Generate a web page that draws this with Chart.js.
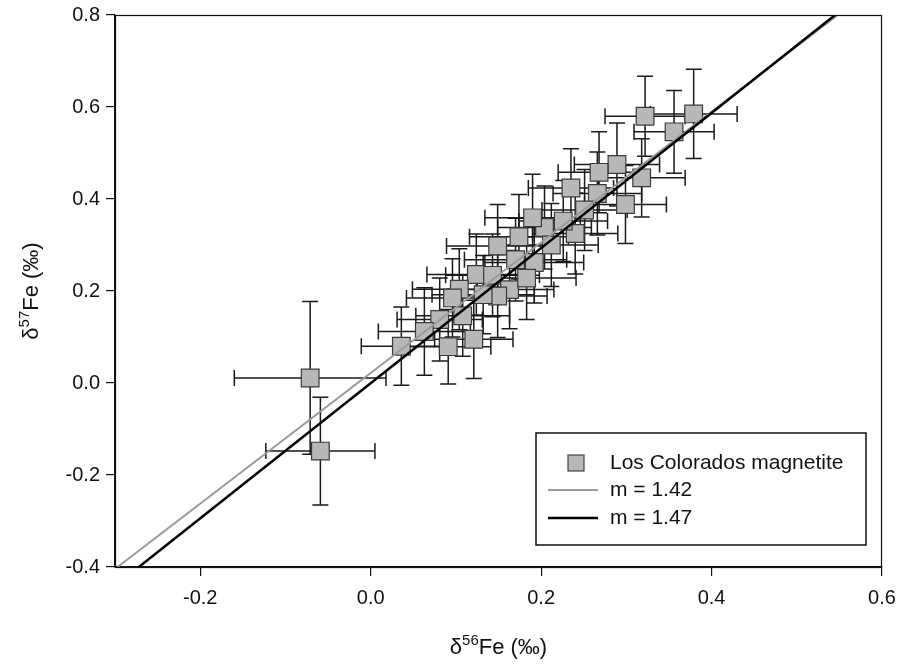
<!DOCTYPE html>
<html>
<head>
<meta charset="utf-8">
<script src="https://cdn.jsdelivr.net/npm/chart.js@4/dist/chart.umd.min.js"></script>
<style>
  html, body { margin: 0; padding: 0; background: #fff; }
  #wrap { width: 901px; height: 666px; }
</style>
</head>
<body>
<div id="wrap"><canvas id="fechart" width="901" height="666"></canvas></div>
<script>
// Los Colorados magnetite, d56Fe vs d57Fe (permil)
const d56 = [0.322, 0.379, 0.356, 0.289, 0.268, 0.318, 0.235, 0.266, 0.251, 0.299,
             0.204, 0.240, 0.190, 0.174, 0.149, 0.124, 0.143, 0.163, 0.104, 0.096,
             0.081, 0.063, 0.036, 0.091, 0.121, 0.108, 0.149, -0.071, -0.059,
             0.170, 0.192, 0.212, 0.132, 0.226, 0.183];
const d57 = [0.580, 0.585, 0.546, 0.475, 0.458, 0.446, 0.424, 0.412, 0.376, 0.388,
             0.338, 0.325, 0.359, 0.318, 0.298, 0.236, 0.234, 0.203, 0.204, 0.185,
             0.138, 0.112, 0.080, 0.079, 0.095, 0.146, 0.189, 0.011, -0.148,
             0.268, 0.262, 0.300, 0.192, 0.352, 0.228];
const err56 = [0.047, 0.051, 0.047, 0.050, 0.048, 0.051, 0.050, 0.052, 0.050, 0.048,
               0.055, 0.050, 0.056, 0.058, 0.060, 0.058, 0.055, 0.052, 0.055, 0.054,
               0.050, 0.054, 0.047, 0.050, 0.046, 0.055, 0.058, 0.089, 0.064,
               0.060, 0.058, 0.055, 0.060, 0.052, 0.058];
const err57 = [0.087, 0.097, 0.090, 0.090, 0.088, 0.085, 0.085, 0.090, 0.088, 0.085,
               0.090, 0.088, 0.095, 0.092, 0.090, 0.088, 0.090, 0.085, 0.088, 0.085,
               0.090, 0.095, 0.085, 0.081, 0.085, 0.088, 0.090, 0.166, 0.117,
               0.090, 0.088, 0.090, 0.085, 0.088, 0.090];

// fit lines, end points
const fit142 = [[-0.297, -0.400], [0.548, 0.800]];
const fit147 = [[-0.272, -0.400], [0.545, 0.800]];

const xTicks = [-0.2, 0.0, 0.2, 0.4, 0.6];
const yTicks = [-0.4, -0.2, 0.0, 0.2, 0.4, 0.6, 0.8];

const FONT = '"Liberation Sans", Arial, sans-serif';
const pts = d56.map((x, i) => ({ x: x, y: d57[i] }));
const toXY = arr => arr.map(p => ({ x: p[0], y: p[1] }));

const errorBars = {
  id: 'errorBars',
  beforeDatasetsDraw(chart) {
    const { ctx, chartArea, scales } = chart;
    const xs = scales.x, ys = scales.y;
    const cap = 8;
    ctx.save();
    ctx.beginPath();
    ctx.rect(chartArea.left, chartArea.top, chartArea.right - chartArea.left, chartArea.bottom - chartArea.top);
    ctx.clip();
    ctx.strokeStyle = '#1a1a1a';
    ctx.lineWidth = 1.5;
    for (let i = 0; i < d56.length; i++) {
      const px = xs.getPixelForValue(d56[i]);
      const py = ys.getPixelForValue(d57[i]);
      const x0 = xs.getPixelForValue(d56[i] - err56[i]);
      const x1 = xs.getPixelForValue(d56[i] + err56[i]);
      const y0 = ys.getPixelForValue(d57[i] - err57[i]);
      const y1 = ys.getPixelForValue(d57[i] + err57[i]);
      ctx.beginPath();
      ctx.moveTo(x0, py); ctx.lineTo(x1, py);
      ctx.moveTo(x0, py - cap); ctx.lineTo(x0, py + cap);
      ctx.moveTo(x1, py - cap); ctx.lineTo(x1, py + cap);
      ctx.moveTo(px, y0); ctx.lineTo(px, y1);
      ctx.moveTo(px - cap, y0); ctx.lineTo(px + cap, y0);
      ctx.moveTo(px - cap, y1); ctx.lineTo(px + cap, y1);
      ctx.stroke();
    }
    ctx.restore();
  }
};

// axis title with a real superscript: delta, mass number, rest
function drawIsoTitle(ctx, mass, cx, cy, rotate) {
  ctx.save();
  ctx.translate(cx, cy);
  if (rotate) ctx.rotate(-Math.PI / 2);
  ctx.fillStyle = '#111';
  ctx.textBaseline = 'alphabetic';
  ctx.textAlign = 'left';
  const big = '22px ' + FONT, small = '15px ' + FONT;
  ctx.font = big;
  const wD = ctx.measureText('δ').width;
  const wR = ctx.measureText('Fe (‰)').width;
  ctx.font = small;
  const wM = ctx.measureText(mass).width;
  let x = -(wD + wM + wR) / 2;
  const base = 8;
  ctx.font = big;
  ctx.fillText('δ', x, base); x += wD;
  ctx.font = small;
  ctx.fillText(mass, x, base - 9); x += wM;
  ctx.font = big;
  ctx.fillText('Fe (‰)', x, base);
  ctx.restore();
}

// box frame, axis titles and legend inside the plot
const frameAndLegend = {
  id: 'frameAndLegend',
  afterDraw(chart) {
    const { ctx, chartArea } = chart;
    ctx.save();
    ctx.strokeStyle = '#111';
    ctx.lineWidth = 1.2;
    ctx.strokeRect(chartArea.left + 0.5, chartArea.top + 0.5,
                   chartArea.right - chartArea.left - 1, chartArea.bottom - chartArea.top);

    drawIsoTitle(ctx, '56', (chartArea.left + chartArea.right) / 2, 646, false);
    drawIsoTitle(ctx, '57', 30, (chartArea.top + chartArea.bottom) / 2, true);

    const ds = chart.data.datasets;
    const bx = chartArea.right - 346, by = chartArea.bottom - 134;
    const bw = 330, bh = 112;
    ctx.fillStyle = '#fff';
    ctx.fillRect(bx, by, bw, bh);
    ctx.lineWidth = 1.5;
    ctx.strokeRect(bx, by, bw, bh);

    ctx.font = '21px ' + FONT;
    ctx.textBaseline = 'middle';
    ctx.textAlign = 'left';
    const tx = bx + 74;
    let ry = by + 30;
    ctx.fillStyle = '#b8b8b8';
    ctx.strokeStyle = '#444';
    ctx.lineWidth = 1.2;
    ctx.fillRect(bx + 32, ry - 8, 16, 16);
    ctx.strokeRect(bx + 32, ry - 8, 16, 16);
    ctx.fillStyle = '#111';
    ctx.fillText(ds[0].label, tx, ry);
    [1, 2].forEach((k, j) => {
      const ly = by + 57 + j * 28;
      ctx.strokeStyle = ds[k].borderColor;
      ctx.lineWidth = ds[k].borderWidth;
      ctx.beginPath();
      ctx.moveTo(bx + 12, ly); ctx.lineTo(bx + 62, ly);
      ctx.stroke();
      ctx.fillStyle = '#111';
      ctx.fillText(ds[k].label, tx, ly);
    });
    ctx.restore();
  }
};

const tickFont = { family: FONT, size: 20 };

new Chart(document.getElementById('fechart').getContext('2d'), {
  type: 'scatter',
  data: {
    datasets: [{
      label: 'Los Colorados magnetite',
      data: pts,
      pointStyle: 'rect',
      pointRadius: 12.5,
      pointHoverRadius: 12.5,
      backgroundColor: '#b8b8b8',
      borderColor: '#3a3a3a',
      borderWidth: 1.2,
      order: 2
    }, {
      type: 'line',
      label: 'm = 1.42',
      data: toXY(fit142),
      borderColor: '#9a9a9a',
      borderWidth: 2,
      pointRadius: 0,
      fill: false,
      order: 1
    }, {
      type: 'line',
      label: 'm = 1.47',
      data: toXY(fit147),
      borderColor: '#000',
      borderWidth: 2.5,
      pointRadius: 0,
      fill: false,
      order: 0
    }]
  },
  options: {
    responsive: false,
    animation: false,
    layout: { padding: { top: 15, right: 19, left: 0, bottom: 0 } },
    plugins: {
      legend: { display: false },
      tooltip: { enabled: false }
    },
    scales: {
      x: {
        type: 'linear',
        min: -0.3,
        max: 0.6,
        afterBuildTicks: s => { s.ticks = xTicks.map(v => ({ value: v })); },
        afterFit: s => { s.height = 99; s.paddingLeft = 0; s.paddingRight = 0; },
        grid: { drawOnChartArea: false, color: '#111', tickLength: 9, lineWidth: 1.2 },
        border: { display: true, color: '#111', width: 1.2 },
        ticks: { color: '#111', font: tickFont, padding: 10, callback: v => v.toFixed(1) }
      },
      y: {
        type: 'linear',
        min: -0.4,
        max: 0.8,
        afterBuildTicks: s => { s.ticks = yTicks.map(v => ({ value: v })); },
        afterFit: s => { s.width = 115; s.paddingTop = 0; s.paddingBottom = 0; },
        grid: { drawOnChartArea: false, color: '#111', tickLength: 9, lineWidth: 1.2 },
        border: { display: true, color: '#111', width: 1.2 },
        ticks: { color: '#111', font: tickFont, padding: 6, callback: v => v.toFixed(1) }
      }
    }
  },
  plugins: [errorBars, frameAndLegend]
});
</script>
</body>
</html>
